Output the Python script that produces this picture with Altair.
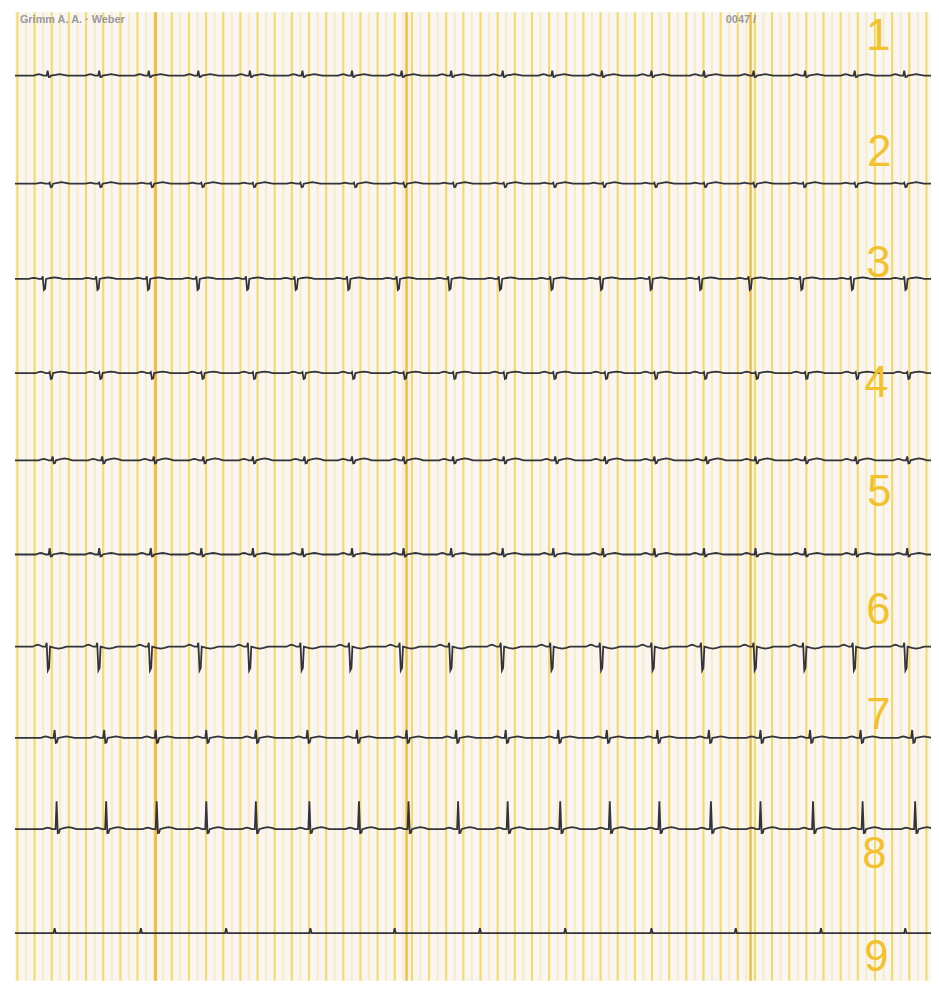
import altair as alt
import pandas as pd
import numpy as np

# ---- data (pixel-like units of the strip) ----
lead_labels = ["1", "2", "3", "4", "5", "6", "7", "8", "9"]
label_x = [886, 887, 886, 884, 887, 886, 886, 882, 884]
label_y = [33, 150, 262, 383, 493, 612, 718, 858, 962]

trace_baseline = [72, 181, 277, 372, 460, 555, 648, 740, 832, 937]

beats_1 = [48, 100, 150, 200, 252, 305, 355, 405, 455, 507, 557, 607, 657, 710, 760, 812, 862, 912]
beats_2 = [50, 100, 152, 203, 255, 303, 357, 407, 457, 508, 558, 608, 660, 710, 760, 810, 862, 912]
beats_3 = [43, 97, 148, 198, 248, 297, 350, 400, 452, 503, 555, 605, 655, 705, 755, 807, 858, 912]
beats_4 = [50, 100, 152, 203, 255, 305, 355, 407, 457, 508, 558, 610, 660, 710, 762, 812, 863, 915]
beats_5 = [53, 103, 155, 205, 255, 307, 355, 407, 457, 508, 560, 610, 660, 712, 762, 812, 863, 915]
beats_6 = [50, 100, 152, 203, 255, 305, 355, 407, 455, 507, 558, 608, 660, 710, 762, 812, 863, 915]
beats_7 = [47, 98, 150, 200, 250, 303, 352, 403, 453, 505, 555, 605, 657, 707, 760, 810, 860, 912]
beats_8 = [55, 105, 157, 208, 258, 310, 360, 410, 460, 510, 563, 612, 663, 715, 767, 817, 868, 920]
beats_9 = [57, 107, 158, 208, 258, 312, 362, 412, 462, 512, 565, 615, 665, 717, 767, 820, 870, 923]
beats_10 = [55, 142, 228, 313, 398, 484, 570, 657, 742, 828, 913]
all_beats = [beats_1, beats_2, beats_3, beats_4, beats_5, beats_6, beats_7, beats_8, beats_9, beats_10]

# wave amplitudes per trace (upward positive): P, R, S depth, T
p_amp = [1.5, 1.0, 1.0, 1.5, 1.5, 1.5, 2.0, 1.5, 1.5, 0.0]
r_amp = [5.0, 1.0, 2.5, 1.0, 4.0, 6.5, 4.0, 8.0, 28.0, 5.0]
s_amp = [1.5, 3.5, 11.0, 6.0, 3.0, 2.0, 24.0, 5.0, 4.0, 0.0]
t_amp = [1.5, 1.5, 1.5, 1.5, 2.0, 1.5, -2.0, 1.5, 2.0, 0.0]

paper_grid_x = list(np.round(np.arange(17.5, 939, 8.65), 1))
dark_grid_x = [157, 410, 757]

header_left = "Grimm A. A.  ·  Weber"
header_right = "0047 /"

# ---- build tables ----
rows = []
for i, beats in enumerate(all_beats):
    base = trace_baseline[i]
    pts = [(15, 0.0)]
    for b in beats:
        p, r, s, t = p_amp[i], r_amp[i], s_amp[i], t_amp[i]
        shape = [(-14, 0), (-11, 0.7 * p), (-9, p), (-7, 0.7 * p), (-4, 0), (-1, 0),
                 (0, r), (1.2, -s), (2.4, -s * 0.9), (3.4, 0), (8, 0.6 * t),
                 (12, t), (16, 0.6 * t), (20, 0)]
        for dx, dy in shape:
            pts.append((b + dx, dy))
    pts.append((939, 0.0))
    for k, (x, dy) in enumerate(pts):
        rows.append({"trace": i, "seq": k, "x": x, "y": base - dy})
trace_df = pd.DataFrame(rows)

grid_df = pd.DataFrame({
    "x": paper_grid_x,
    "c": ["#f5dc66" if k % 2 == 0 else "#f8edbf" for k in range(len(paper_grid_x))],
    "w": [2.2 if k % 2 == 0 else 2.0 for k in range(len(paper_grid_x))],
})
dark_df = pd.DataFrame({"x": dark_grid_x})
label_df = pd.DataFrame({"t": lead_labels, "x": label_x, "y": label_y})
bg_df = pd.DataFrame({"x": [15], "x2": [939], "y": [8], "y2": [985]})
head_df = pd.DataFrame({"t": [header_left, header_right], "x": [20, 732], "y": [10, 10]})

xs = alt.Scale(domain=[8, 939], nice=False, zero=False)
ys = alt.Scale(domain=[8, 985], nice=False, zero=False, reverse=True)
X = lambda f="x": alt.X(f, type="quantitative", scale=xs, axis=None)
Y = lambda f="y": alt.Y(f, type="quantitative", scale=ys, axis=None)

bg = alt.Chart(bg_df).mark_rect(color="#f9f5f5").encode(
    x=X(), x2="x2", y=Y(), y2="y2")

grid = alt.Chart(grid_df).mark_rule().encode(
    x=X(), y=alt.value(0), y2=alt.value(977),
    color=alt.Color("c:N", scale=None),
    strokeWidth=alt.StrokeWidth("w:Q", scale=None))

dark = alt.Chart(dark_df).mark_rule(color="#f1b83a", strokeWidth=2.4).encode(
    x=X(), y=alt.value(0), y2=alt.value(977))

traces = alt.Chart(trace_df).mark_line(color="#333339", strokeWidth=1.8, clip=True).encode(
    x=X(), y=Y(), detail="trace:N", order="seq:Q")

labels = alt.Chart(label_df).mark_text(
    color="#f2c12e", fontSize=44, font="Liberation Sans Narrow, Liberation Sans, sans-serif",
    align="center", baseline="middle").encode(x=X(), y=Y(), text="t:N")

head = alt.Chart(head_df).mark_text(
    color="#7c7c84", fontSize=11, font="Liberation Sans", align="left", baseline="top",
    fontWeight="bold", opacity=0.75).encode(x=X(), y=Y(), text="t:N")

chart = alt.layer(bg, grid, dark, traces, labels, head).properties(
    width=931, height=977, padding=0, autosize=alt.AutoSizeParams(type="none")
).configure_view(stroke=None)

chart.save("out.html", embed_options={"renderer": "svg", "actions": False})
